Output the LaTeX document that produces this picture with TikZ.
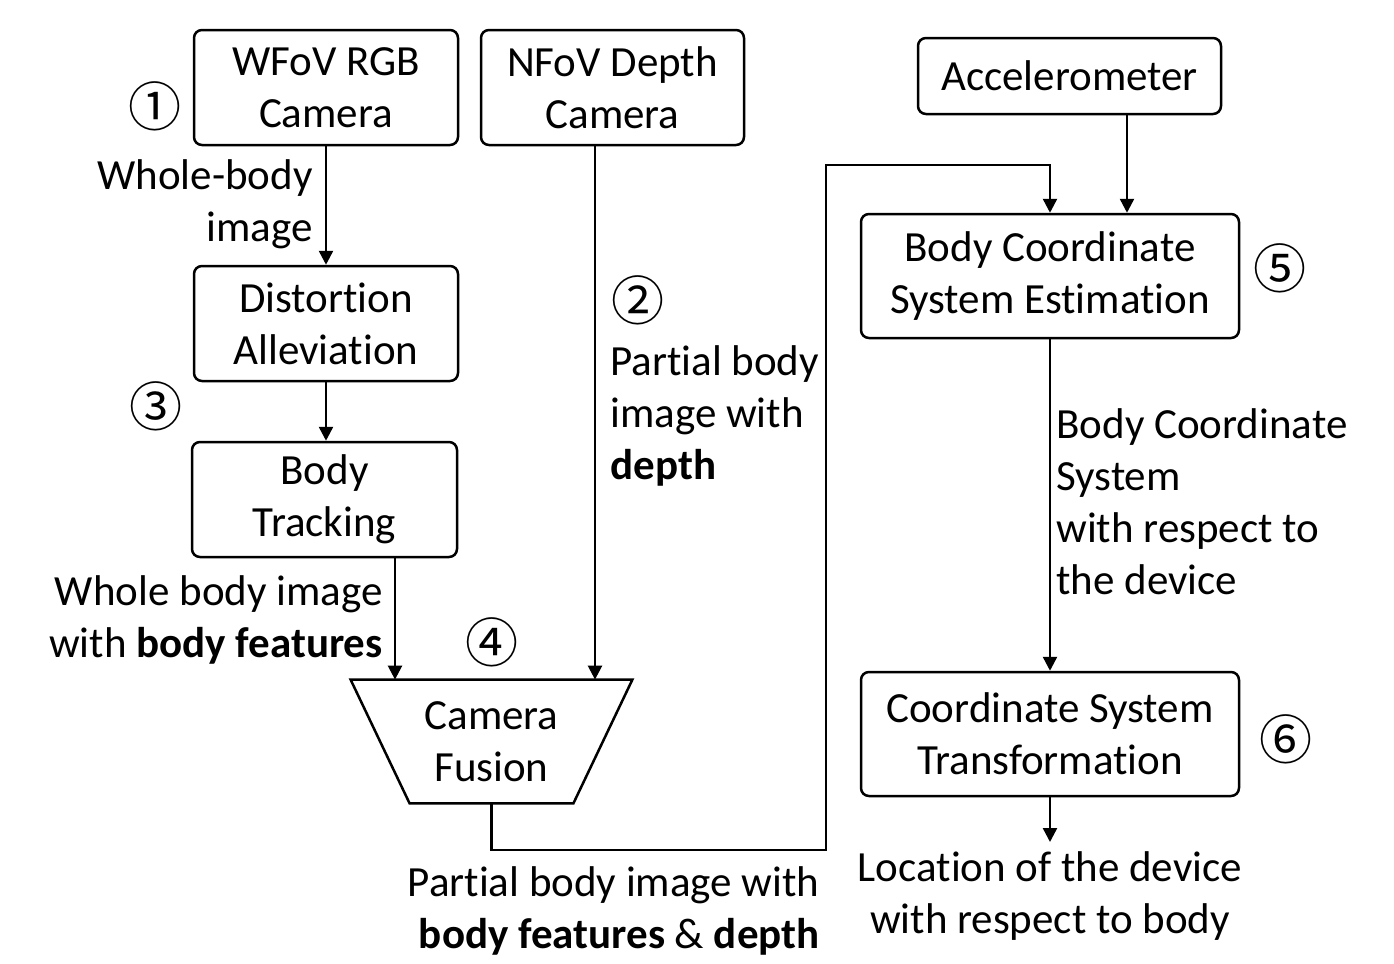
\documentclass[tikz,border=0pt]{standalone}
\usepackage{fontspec}
\setmainfont{Carlito}[Ligatures=NoCommon]
\newfontfamily\cjkf{Noto Sans CJK JP}
\usetikzlibrary{arrows.meta}
\begin{document}
\begin{tikzpicture}[x=0.5pt,y=-0.5pt,
  box/.style={draw,rounded corners=4pt,line width=1.25pt,align=center,inner sep=0pt,font=\fontsize{21.5}{26}\selectfont},
  lbl/.style={inner sep=0pt,font=\fontsize{21.5}{26}\selectfont},
  num/.style={inner sep=0pt,font=\cjkf\fontsize{26.5}{26.5}\selectfont},
  arr/.style={line width=1.25pt,-{Triangle[width=7pt,length=7pt]}}]
\useasboundingbox (0,0) rectangle (1394,964);
% boxes
\node[box,minimum width=132pt,minimum height=57.5pt] (wfov) at (326,87.5) {WFoV RGB\\Camera};
\node[box,minimum width=131.5pt,minimum height=57.5pt] (nfov) at (612.5,87.5) {NFoV Depth\\Camera};
\node[box,minimum width=151.5pt,minimum height=38pt] (acc) at (1069.5,76) {Accelerometer};
\node[box,minimum width=189pt,minimum height=62pt] (bcse) at (1050,276) {Body Coordinate\\System Estimation};
\node[box,minimum width=132pt,minimum height=57.5pt] (dist) at (326,323.5) {Distortion\\Alleviation};
\node[box,minimum width=132.5pt,minimum height=57.5pt] (track) at (324.5,499.5) {Body\\Tracking};
\node[box,minimum width=189pt,minimum height=62pt] (cst) at (1050,734) {Coordinate System\\Transformation};
\node[lbl,align=center,minimum width=140.5pt,minimum height=61.5pt] (fusion) at (491.5,741.5) {Camera\\Fusion};
\draw[line width=1.25pt] (fusion.north west) -- (fusion.north east) -- ([xshift=-29.5pt]fusion.south east) -- ([xshift=29.5pt]fusion.south west) -- cycle;
% labels
\node[lbl,align=right,anchor=north east] (l1) at (313,159) {Whole-body\\image};
\node[lbl,align=left,anchor=north west] (l2) at (610,345) {Partial body\\image with\\\textbf{depth}};
\node[lbl,align=right,anchor=north east] (l3) at (383,575) {Whole body image\\with \textbf{body features}};
\node[lbl,align=right,anchor=north east] (l4) at (820,866) {Partial body image with\\\textbf{body features} \& \textbf{depth}};
\node[lbl,align=left,anchor=north west] (l5) at (1056,408) {Body Coordinate\\System\\with respect to\\the device};
\node[lbl,align=center,anchor=north] (l6) at (1050,851) {Location of the device\\with respect to body};
% numbers
\node[num] (n1) at (155,106) {①};
\node[num] (n2) at (638,300) {②};
\node[num] (n3) at (156,406) {③};
\node[num] (n4) at (492,642) {④};
\node[num] (n5) at (1280,268) {⑤};
\node[num] (n6) at (1286,739) {⑥};
% connectors
\coordinate (tx) at (395,0);
\coordinate (nx) at (595,0);
\coordinate (ax) at (1127,0);
\coordinate (b1) at (826,850);
\coordinate (b2) at (826,165);
\coordinate (out) at (1050,842);
\draw[arr] (wfov.south) -- (dist.north);
\draw[arr] (dist.south) -- (dist.south |- track.north);
\draw[arr] (track.south -| tx) -- (fusion.north -| tx);
\draw[arr] (nfov.south -| nx) -- (fusion.north -| nx);
\draw[arr] (fusion.south) |- (b1) -- (b2) -| (bcse.north);
\draw[arr] (acc.south -| ax) -- (bcse.north -| ax);
\draw[arr] (bcse.south) -- (cst.north);
\draw[arr] (cst.south) -- (out);
\end{tikzpicture}
\end{document}
